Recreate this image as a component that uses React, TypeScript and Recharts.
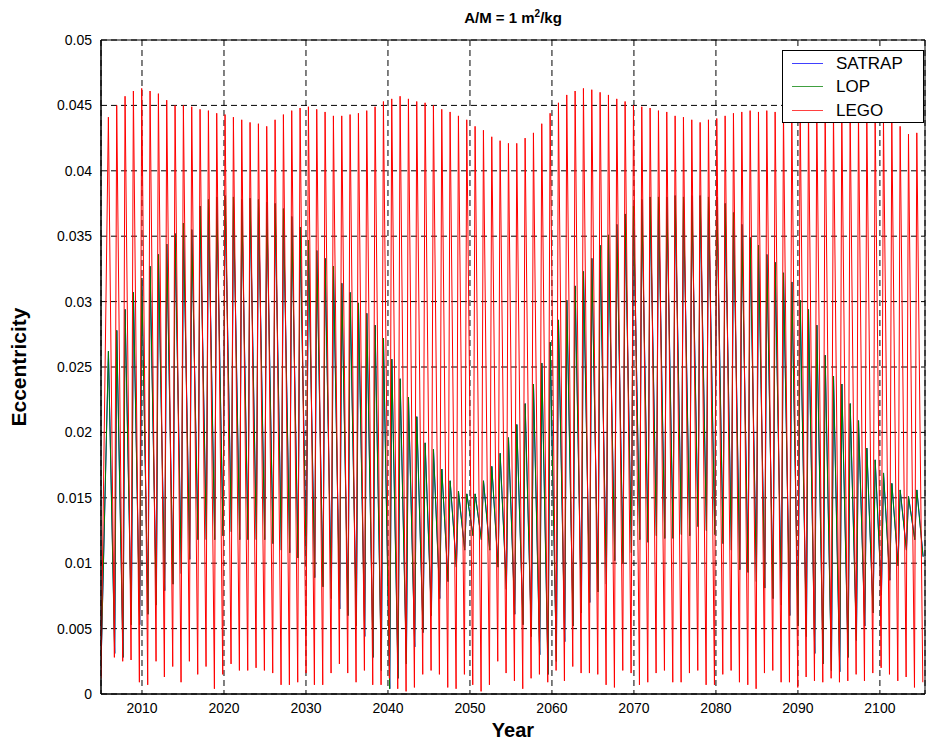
import { LineChart, Line, XAxis, YAxis, CartesianGrid, Legend, ReferenceArea } from "recharts";

const FONT = "'Liberation Sans', Arial, Helvetica, sans-serif";

// time axis: one eccentricity swing per cycle, starting just before 2006
const START_YEAR = 2005;
const END_YEAR = 2105.5;
const FIRST_PEAK_YEAR = 2005.9;
const CYCLE_YEARS = 1.0165;

const YEAR_TICKS = [2010, 2020, 2030, 2040, 2050, 2060, 2070, 2080, 2090, 2100];
const ECC_TICKS = [0, 0.005, 0.01, 0.015, 0.02, 0.025, 0.03, 0.035, 0.04, 0.045, 0.05];

const SERIES = [
  { name: "SATRAP", color: "#0000ff" },
  { name: "LOP", color: "#008000" },
  { name: "LEGO", color: "#ff0000" },
];

// LEGO: cycle maxima / minima
const LEGO_START = 0.0012;
const LEGO_PEAKS = [
  0.0441, 0.045, 0.0457, 0.0461, 0.0463, 0.0461, 0.0459, 0.0454, 0.045, 0.045,
  0.0449, 0.0447, 0.0446, 0.0444, 0.0443, 0.0441, 0.0439, 0.0437, 0.0436, 0.0434,
  0.0439, 0.0443, 0.0446, 0.0448, 0.0449, 0.0447, 0.0445, 0.0442, 0.0442, 0.0443,
  0.0444, 0.0446, 0.0449, 0.0453, 0.0455, 0.0457, 0.0455, 0.0453, 0.0452, 0.045,
  0.0447, 0.0445, 0.0442, 0.0439, 0.0434, 0.0431, 0.0426, 0.0423, 0.0421, 0.0421,
  0.0425, 0.0429, 0.0436, 0.0444, 0.0452, 0.0458, 0.0461, 0.0463, 0.0462, 0.046,
  0.0458, 0.0455, 0.0453, 0.045, 0.0449, 0.0448, 0.0446, 0.0445, 0.0442, 0.0441,
  0.0439, 0.0437, 0.0439, 0.044, 0.0442, 0.0444, 0.0445, 0.0446, 0.0445, 0.0446,
  0.0445, 0.0446, 0.0447, 0.0448, 0.0448, 0.0448, 0.0447, 0.0446, 0.0446, 0.0445,
  0.0444, 0.0443, 0.0442, 0.0441, 0.0438, 0.0434, 0.0428, 0.0429,
];
const LEGO_TROUGHS = [
  0.0028, 0.0025, 0.0026, 0.0009, 0.0007, 0.0025, 0.0013, 0.0021, 0.0009, 0.0025,
  0.0015, 0.0021, 0.0004, 0.0015, 0.0023, 0.0018, 0.0018, 0.002, 0.0018, 0.0016,
  0.0007, 0.0007, 0.0009, 0.0016, 0.0007, 0.0007, 0.0016, 0.0023, 0.0016, 0.0009,
  0.0018, 0.0007, 0.0007, 0.0012, 0.0004, 0.0002, 0.0005, 0.0015, 0.0018, 0.0015,
  0.0005, 0.0004, 0.0015, 0.0007, 0.0002, 0.0007, 0.0025, 0.0016, 0.001, 0.0004,
  0.0012, 0.0015, 0.0009, 0.0018, 0.001, 0.0021, 0.0016, 0.0016, 0.0015, 0.0007,
  0.0005, 0.0018, 0.0016, 0.0007, 0.0009, 0.0016, 0.0018, 0.0009, 0.0009, 0.0016,
  0.0018, 0.0007, 0.0007, 0.0015, 0.0018, 0.0009, 0.0007, 0.0004, 0.0016, 0.0018,
  0.0009, 0.0009, 0.0005, 0.0013, 0.001, 0.0009, 0.0012, 0.0009, 0.001, 0.0015,
  0.001, 0.0016, 0.002, 0.0015, 0.001, 0.0013, 0.0005, 0.0009,
];

// LOP (SATRAP follows it almost exactly)
const LOP_START = 0.002;
const LOP_PEAKS = [
  0.0262, 0.0278, 0.0294, 0.0307, 0.0318, 0.0327, 0.0336, 0.0344, 0.0352, 0.036,
  0.0355, 0.0373, 0.0378, 0.038, 0.0381, 0.038, 0.0378, 0.0379, 0.0378, 0.0376,
  0.0375, 0.0371, 0.0365, 0.0357, 0.0347, 0.0339, 0.0333, 0.0327, 0.0314, 0.0307,
  0.0299, 0.0291, 0.0282, 0.0272, 0.0256, 0.0241, 0.0227, 0.0212, 0.0192, 0.0187,
  0.0172, 0.0163, 0.0155, 0.0153, 0.0153, 0.0163, 0.0174, 0.0184, 0.0196, 0.0206,
  0.0222, 0.0237, 0.0253, 0.0269, 0.0286, 0.0301, 0.0312, 0.0323, 0.0333, 0.0343,
  0.0351, 0.0359, 0.0367, 0.0373, 0.0378, 0.038, 0.038, 0.038, 0.0381, 0.038,
  0.0381, 0.0381, 0.038, 0.038, 0.0375, 0.0368, 0.0359, 0.0349, 0.0343, 0.0336,
  0.033, 0.0322, 0.0315, 0.0301, 0.0294, 0.0282, 0.0259, 0.0243, 0.0237, 0.0222,
  0.0209, 0.0188, 0.0179, 0.0169, 0.0161, 0.0156, 0.0151, 0.0156,
];
const LOP_TROUGHS = [
  0.0031, 0.0028, 0.0053, 0.0053, 0.0061, 0.0068, 0.0079, 0.0084, 0.0092, 0.0103,
  0.0118, 0.0118, 0.0118, 0.0121, 0.0124, 0.0118, 0.0118, 0.0118, 0.0118, 0.0115,
  0.011, 0.0108, 0.0104, 0.0097, 0.0089, 0.0082, 0.0073, 0.0065, 0.006, 0.0052,
  0.0044, 0.0028, 0.0018, 0.0004, 0.0012, 0.0023, 0.0036, 0.0047, 0.006, 0.0073,
  0.0086, 0.0097, 0.011, 0.0121, 0.0118, 0.011, 0.0097, 0.008, 0.0061, 0.0053,
  0.0044, 0.003, 0.0015, 0.0025, 0.004, 0.0052, 0.0062, 0.007, 0.0078, 0.0084,
  0.0102, 0.01, 0.0108, 0.0118, 0.0116, 0.0121, 0.0119, 0.0119, 0.0122, 0.0121,
  0.0128, 0.0125, 0.0122, 0.0115, 0.011, 0.0095, 0.0093, 0.0086, 0.0081, 0.0073,
  0.0068, 0.006, 0.0052, 0.0044, 0.0031, 0.0023, 0.0018, 0.0017, 0.0028, 0.0041,
  0.0052, 0.0062, 0.0076, 0.0087, 0.0098, 0.011, 0.0118, 0.0105,
];

// fraction of a cycle from maximum to the following minimum (slow fall, fast rise)
const LEGO_FALL = 0.72;
const LOP_FALL = 0.75;
const SATRAP_LAG = 0.012;

type Pt = { t: number; e: number };

function buildSeries(start: number, peaks: number[], troughs: number[], fall: number, lag = 0): Pt[] {
  const pts: Pt[] = [{ t: START_YEAR, e: start }];
  peaks.forEach((p, i) => {
    const t0 = FIRST_PEAK_YEAR + i * CYCLE_YEARS + lag;
    pts.push({ t: t0, e: p });
    pts.push({ t: t0 + fall * CYCLE_YEARS, e: troughs[i] });
  });
  return pts;
}

const satrapData = buildSeries(LOP_START, LOP_PEAKS, LOP_TROUGHS, LOP_FALL, SATRAP_LAG);
const lopData = buildSeries(LOP_START, LOP_PEAKS, LOP_TROUGHS, LOP_FALL);
const legoData = buildSeries(LEGO_START, LEGO_PEAKS, LEGO_TROUGHS, LEGO_FALL);

function LegendBox() {
  return (
    <div
      style={{
        position: "relative",
        width: 142,
        height: 73,
        boxSizing: "border-box",
        border: "1px solid #000",
        background: "#fff",
        fontFamily: FONT,
        fontSize: 17,
        color: "#000",
      }}
    >
      {SERIES.map((s, i) => (
        <div key={s.name} style={{ position: "absolute", left: 0, top: 1 + i * 23.3, height: 23, width: 140 }}>
          <div style={{ position: "absolute", left: 9, top: 11, width: 31, height: 1, background: s.color, opacity: 0.75 }} />
          <span style={{ position: "absolute", left: 53, top: 2, lineHeight: "19px" }}>{s.name}</span>
        </div>
      ))}
    </div>
  );
}

const tickStyle = { fill: "#000", fontSize: 14, fontFamily: FONT };

export default function App() {
  return (
    <div style={{ position: "absolute", left: 0, top: 0, width: 926, height: 742, background: "#fff", fontFamily: FONT }}>
      <LineChart width={926} height={742} margin={{ top: 40, right: 1, bottom: 0, left: 41 }}>
        <CartesianGrid stroke="#000" strokeDasharray="6 4" />
        <XAxis
          dataKey="t"
          type="number"
          domain={[START_YEAR, END_YEAR]}
          ticks={YEAR_TICKS}
          allowDataOverflow
          height={48}
          tickLine={false}
          axisLine={{ stroke: "#000" }}
          tick={tickStyle}
          tickSize={6}
          tickMargin={3}
        />
        <YAxis
          type="number"
          domain={[0, 0.05]}
          ticks={ECC_TICKS}
          allowDataOverflow
          width={60}
          tickLine={false}
          axisLine={{ stroke: "#000" }}
          tick={tickStyle}
          tickSize={6}
          tickMargin={3}
          tickFormatter={(v: number) => String(v)}
        />
        <ReferenceArea x1={START_YEAR} x2={END_YEAR} y1={0} y2={0.05} fill="#fff" fillOpacity={0} stroke="#000" strokeOpacity={1} />
        <Legend
          layout="horizontal"
          verticalAlign="middle"
          align="center"
          wrapperStyle={{ top: 50, left: 782, width: 142, height: 73 }}
          content={() => <LegendBox />}
        />
        <Line data={satrapData} dataKey="e" name="SATRAP" stroke={SERIES[0].color} strokeWidth={1} dot={false} type="linear" isAnimationActive={false} />
        <Line data={lopData} dataKey="e" name="LOP" stroke={SERIES[1].color} strokeWidth={1} dot={false} type="linear" isAnimationActive={false} />
        <Line data={legoData} dataKey="e" name="LEGO" stroke={SERIES[2].color} strokeWidth={1} dot={false} type="linear" isAnimationActive={false} />
      </LineChart>

      <div style={{ position: "absolute", left: 413, width: 200, top: 8, textAlign: "center", fontWeight: "bold", fontSize: 15, color: "#000" }}>
        A/M = 1 m<sup style={{ fontSize: 10 }}>2</sup>/kg
      </div>
      <div style={{ position: "absolute", left: 413, width: 200, top: 719, textAlign: "center", fontWeight: "bold", fontSize: 20, color: "#000" }}>
        Year
      </div>
      <div
        style={{
          position: "absolute",
          left: 19,
          top: 367,
          transform: "translate(-50%, -50%) rotate(-90deg)",
          whiteSpace: "nowrap",
          fontWeight: "bold",
          fontSize: 21,
          color: "#000",
        }}
      >
        Eccentricity
      </div>
    </div>
  );
}
